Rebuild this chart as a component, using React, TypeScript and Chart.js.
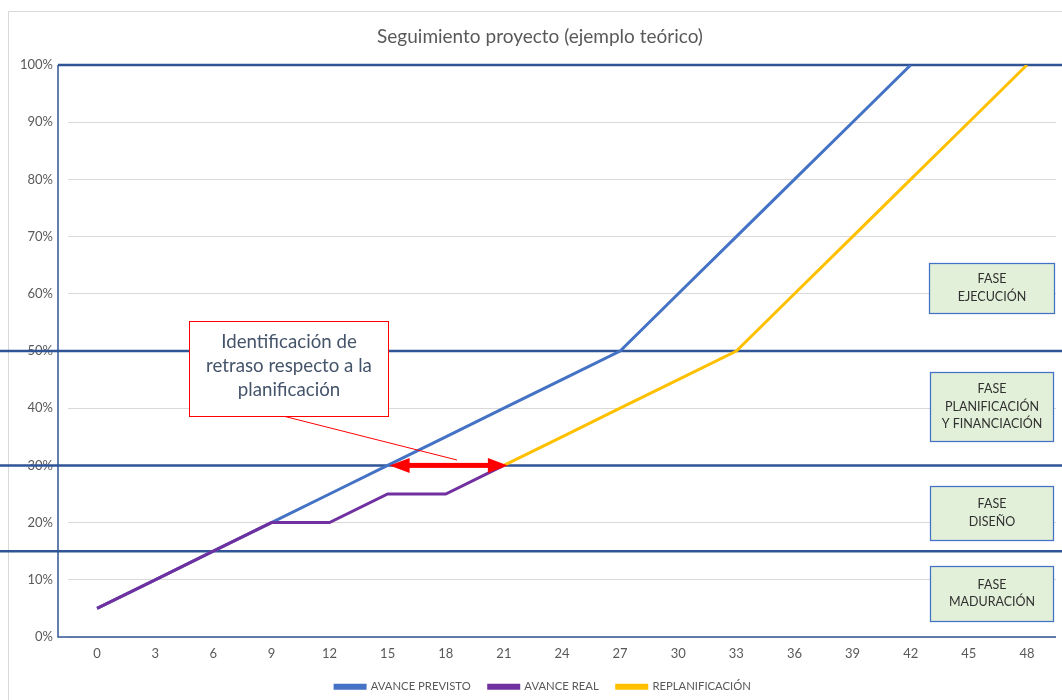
import React, { useEffect, useRef } from "react";
import { Chart, registerables } from "chart.js";

Chart.register(...registerables);

const months = ["0", "3", "6", "9", "12", "15", "18", "21", "24", "27", "30", "33", "36", "39", "42", "45", "48"];
const avancePrevisto = [5, 10, 15, 20, 25, 30, 35, 40, 45, 50, 60, 70, 80, 90, 100, null, null];
const avanceReal = [5, 10, 15, 20, 20, 25, 25, 30, null, null, null, null, null, null, null, null, null];
const replanificacion = [null, null, null, null, null, null, null, 30, 35, 40, 45, 50, 60, 70, 80, 90, 100];
const phaseLimits = [15, 30, 50, 100];
const phaseLabels = [
  ["FASE", "EJECUCIÓN"],
  ["FASE", "PLANIFICACIÓN", "Y FINANCIACIÓN"],
  ["FASE", "DISEÑO"],
  ["FASE", "MADURACIÓN"],
];
const calloutLines = ["Identificación de", "retraso respecto a la", "planificación"];
const titleText = "Seguimiento proyecto (ejemplo teórico)";

const FONT = "Lato, 'Open Sans', sans-serif";

const decorPlugin = {
  id: "decor",
  afterLayout(chart: any) {
    const lg = chart.legend;
    if (lg) {
      lg.left += 15;
      lg.right += 15;
    }
  },
  beforeDraw(chart: any) {
    const ctx = chart.ctx;
    ctx.save();
    // outer chart border
    ctx.strokeStyle = "#D9D9D9";
    ctx.lineWidth = 1;
    ctx.beginPath();
    ctx.moveTo(8.5, 705);
    ctx.lineTo(8.5, 11.5);
    ctx.lineTo(1070, 11.5);
    ctx.stroke();
    // title
    ctx.fillStyle = "#595959";
    ctx.font = `19px ${FONT}`;
    ctx.textAlign = "center";
    ctx.textBaseline = "middle";
    ctx.fillText(titleText, 540, 37);
    ctx.restore();
  },
  beforeDatasetsDraw(chart: any) {
    const ctx = chart.ctx;
    const { right, bottom } = chart.chartArea;
    const y = chart.scales.y;
    ctx.save();
    ctx.strokeStyle = "#2F5597";
    // axis lines
    ctx.lineWidth = 1.5;
    ctx.beginPath();
    ctx.moveTo(58, y.getPixelForValue(100));
    ctx.lineTo(58, bottom);
    ctx.lineTo(right, bottom);
    ctx.stroke();
    // phase limit lines
    ctx.lineWidth = 2.5;
    phaseLimits.forEach((v) => {
      const py = y.getPixelForValue(v);
      ctx.beginPath();
      ctx.moveTo(v === 100 ? 58 : 0, py);
      ctx.lineTo(1062, py);
      ctx.stroke();
    });
    ctx.restore();
  },
  afterDatasetsDraw(chart: any) {
    const ctx = chart.ctx;
    const x = chart.scales.x;
    const y = chart.scales.y;
    ctx.save();
    // callout connector
    ctx.strokeStyle = "#FF0000";
    ctx.lineWidth = 1;
    ctx.beginPath();
    ctx.moveTo(283, 416);
    ctx.lineTo(457, 460);
    ctx.stroke();
    // callout box
    ctx.fillStyle = "#FFFFFF";
    ctx.fillRect(189, 321, 199, 95);
    ctx.strokeRect(189.5, 321.5, 199, 95);
    ctx.fillStyle = "#44546A";
    ctx.font = `18.7px ${FONT}`;
    ctx.textAlign = "center";
    ctx.textBaseline = "middle";
    calloutLines.forEach((t, i) => ctx.fillText(t, 289, 342 + i * 24));

    // double arrow at 30%
    const ya = y.getPixelForValue(30);
    const xl = x.getPixelForValue(5) + 2;
    const xr = x.getPixelForValue(7) + 4;
    const head = 20;
    const hh = 7.5;
    ctx.fillStyle = "#FF0000";
    ctx.fillRect(xl + head - 2, ya - 2.5, xr - xl - 2 * head + 4, 5);
    ctx.beginPath();
    ctx.moveTo(xl, ya);
    ctx.lineTo(xl + head, ya - hh);
    ctx.lineTo(xl + head, ya + hh);
    ctx.closePath();
    ctx.fill();
    ctx.beginPath();
    ctx.moveTo(xr, ya);
    ctx.lineTo(xr - head, ya - hh);
    ctx.lineTo(xr - head, ya + hh);
    ctx.closePath();
    ctx.fill();

    // phase boxes
    const boxes = [
      { x: 929, y: 263, w: 125, h: 50 },
      { x: 930, y: 372, w: 123, h: 69 },
      { x: 930, y: 486, w: 123, h: 54 },
      { x: 930, y: 566, w: 123, h: 55 },
    ];
    boxes.forEach((b, i) => {
      ctx.fillStyle = "#E2F0D9";
      ctx.fillRect(b.x, b.y, b.w, b.h);
      ctx.strokeStyle = "#4472C4";
      ctx.lineWidth = 1.25;
      ctx.strokeRect(b.x + 0.5, b.y + 0.5, b.w, b.h);
      ctx.fillStyle = "#303030";
      ctx.font = `12.5px ${FONT}`;
      const lines = phaseLabels[i];
      const lh = 17.5;
      const cy = b.y + b.h / 2 - ((lines.length - 1) * lh) / 2;
      lines.forEach((t, j) => ctx.fillText(t, b.x + b.w / 2 + 0.5, cy + j * lh));
    });
    ctx.restore();
  },
};

export default function App() {
  const ref = useRef<HTMLCanvasElement | null>(null);
  useEffect(() => {
    if (!ref.current) return;
    const mk = (label: string, data: (number | null)[], color: string, order: number) => ({
      label,
      data,
      borderColor: color,
      backgroundColor: color,
      borderWidth: 3,
      pointRadius: 0,
      tension: 0,
      spanGaps: false,
      order,
    });
    const chart = new Chart(ref.current, {
      type: "line",
      data: {
        labels: months,
        datasets: [
          mk("AVANCE PREVISTO", avancePrevisto, "#4472C4", 2),
          mk("AVANCE REAL", avanceReal, "#7030A0", 0),
          mk("REPLANIFICACIÓN", replanificacion, "#FFC000", 1),
        ],
      },
      options: {
        responsive: false,
        animation: false,
        layout: { padding: { top: 65, right: 6, left: 0, bottom: -2.5 } },
        plugins: {
          title: { display: false },
          tooltip: { enabled: false },
          legend: {
            position: "bottom",
            labels: {
              boxWidth: 30,
              boxHeight: 3,
              padding: 18,
              color: "#595959",
              font: { family: FONT, size: 11.3 },
              sort: (a: any, b: any) => a.datasetIndex - b.datasetIndex,
            },
          },
        },
        scales: {
          x: {
            offset: true,
            grid: { display: false, drawTicks: false },
            border: { display: false },
            ticks: { color: "#595959", font: { family: FONT, size: 13 }, padding: 9, maxRotation: 0, autoSkip: false },
            afterFit: (s: any) => {
              s.height = 26.2;
            },
          },
          y: {
            min: 0,
            max: 100,
            grid: { color: "#D9D9D9", lineWidth: 1, drawTicks: false },
            border: { display: false },
            ticks: {
              stepSize: 10,
              color: "#595959",
              font: { family: FONT, size: 13 },
              padding: 15,
              callback: (v: any) => `${v}%`,
            },
            afterFit: (s: any) => {
              s.width = 68;
            },
          },
        },
      },
      plugins: [decorPlugin],
    } as any);
    return () => chart.destroy();
  }, []);
  return (
    <div style={{ position: "absolute", left: 0, top: 0, width: 1062, height: 700, background: "#fff" }}>
      <canvas ref={ref} width={1062} height={700} style={{ display: "block" }} />
    </div>
  );
}
